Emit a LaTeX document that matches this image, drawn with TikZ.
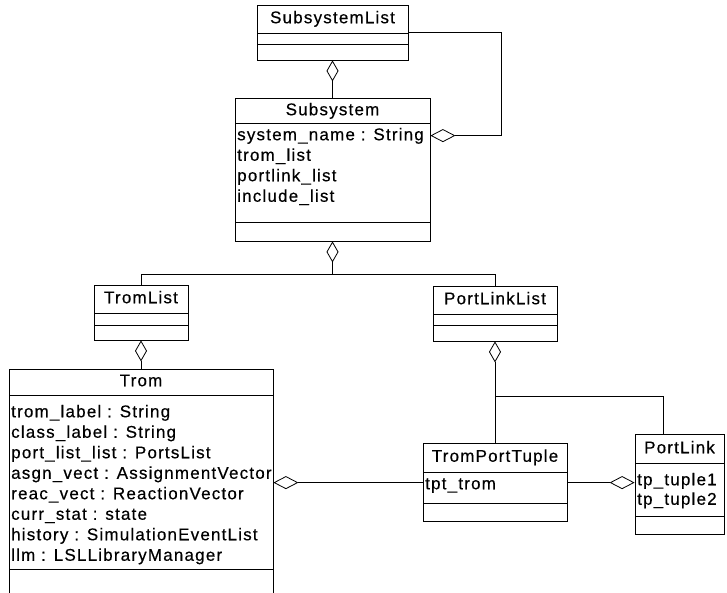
\documentclass[tikz,border=0pt]{standalone}
\usepackage{fontspec}
\setmainfont{Liberation Sans}[LetterSpace=7,FakeBold=0.4]
\usetikzlibrary{arrows.meta}
\begin{document}
\begin{tikzpicture}[x=1pt,y=-1pt,
  box/.style={draw,line width=0.8pt,inner sep=0pt,rectangle},
  rule/.style={line width=0.8pt},
  conn/.style={line width=0.8pt},
  txt/.style={inner sep=0pt,text height=12pt,text depth=3.5pt,font=\fontsize{17}{20}\selectfont},
  title/.style={txt},
  attr/.style={txt,anchor=west},
  aggv/.style={conn,{Diamond[open,length=21pt,width=12pt]}-},
  aggh/.style={conn,{Diamond[open,length=25pt,width=13pt]}-}]

\useasboundingbox (0,0) rectangle (727,592);
\clip (0,0) rectangle (727,592);

% SubsystemList
\node[box,minimum width=151pt,minimum height=55pt] (sl) at (332.5,32.5) {};
\node[title] (slT) at (332.5,19) {SubsystemList};
\draw[rule] (257,33) -- (408,33);
\draw[rule] (257,44) -- (408,44);

% Subsystem
\node[box,minimum width=195pt,minimum height=143pt] (ss) at (332.5,169.5) {};
\node[title] (ssT) at (332.5,111) {Subsystem};
\draw[rule] (235,123) -- (430,123);
\node[attr] (ssA1) at (237,136) {system\_name : String};
\node[attr] (ssA2) at (237,156.5) {trom\_list};
\node[attr] (ssA3) at (237,177) {portlink\_list};
\node[attr] (ssA4) at (237,197.5) {include\_list};
\draw[rule] (235,222) -- (430,222);

% TromList
\node[box,minimum width=94pt,minimum height=55pt] (tl) at (141,312.5) {};
\node[title] (tlT) at (141,299) {TromList};
\draw[rule] (94,313) -- (188,313);
\draw[rule] (94,325) -- (188,325);

% PortLinkList
\node[box,minimum width=124pt,minimum height=55pt] (pll) at (495,313.5) {};
\node[title] (pllT) at (495,300) {PortLinkList};
\draw[rule] (433,314) -- (557,314);
\draw[rule] (433,325) -- (557,325);

% Trom (runs past the lower edge)
\node[box,minimum width=264pt,minimum height=240pt] (tr) at (141,489) {};
\node[title] (trT) at (141,382) {Trom};
\draw[rule] (9,395) -- (273,395);
\node[attr] (trA1) at (11,413) {trom\_label : String};
\node[attr] (trA2) at (11,433.5) {class\_label : String};
\node[attr] (trA3) at (11,454) {port\_list\_list : PortsList};
\node[attr] (trA4) at (11,474.5) {asgn\_vect : AssignmentVector};
\node[attr] (trA5) at (11,495) {reac\_vect : ReactionVector};
\node[attr] (trA6) at (11,515.5) {curr\_stat : state};
\node[attr] (trA7) at (11,536) {history : SimulationEventList};
\node[attr] (trA8) at (11,556.5) {llm : LSLLibraryManager};
\draw[rule] (9,569) -- (273,569);

% TromPortTuple
\node[box,minimum width=144pt,minimum height=78pt] (tpt) at (495,482) {};
\node[title] (tptT) at (495,457.5) {TromPortTuple};
\draw[rule] (423,472) -- (567,472);
\node[attr] (tptA1) at (425,485) {tpt\_trom};
\draw[rule] (423,503) -- (567,503);

% PortLink
\node[box,minimum width=89pt,minimum height=100pt] (pl) at (679.5,484) {};
\node[title] (plT) at (679.5,449) {PortLink};
\draw[rule] (635,463) -- (724,463);
\node[attr] (plA1) at (637,481) {tp\_tuple1};
\node[attr] (plA2) at (637,500.5) {tp\_tuple2};
\draw[rule] (635,516) -- (724,516);

% aggregations
\draw[aggv] (sl.south) -- (ss.north);
\draw[aggh] ([yshift=-38pt]ss.north east) -| ([xshift=93pt,yshift=-28pt]sl.north east) -- ([yshift=-28pt]sl.north east);
\draw[aggv] (ss.south) -- ++(0,33) coordinate (hub);
\draw[conn] (tl.north) |- (hub) -| (pll.north);
\draw[aggv] (tl.south) -- (tr.north);
\draw[aggv] (pll.south) -- (tpt.north);
\coordinate (fork) at ([yshift=-55pt]pll.south);
\draw[conn] (fork) -| ([xshift=-16.5pt]pl.north);
\draw[aggh] ([yshift=-114pt]tr.north east) -- ([yshift=-40pt]tpt.north west);
\draw[aggh] ([yshift=-49pt]pl.north west) -- ([yshift=-40pt]tpt.north east);
\end{tikzpicture}
\end{document}
